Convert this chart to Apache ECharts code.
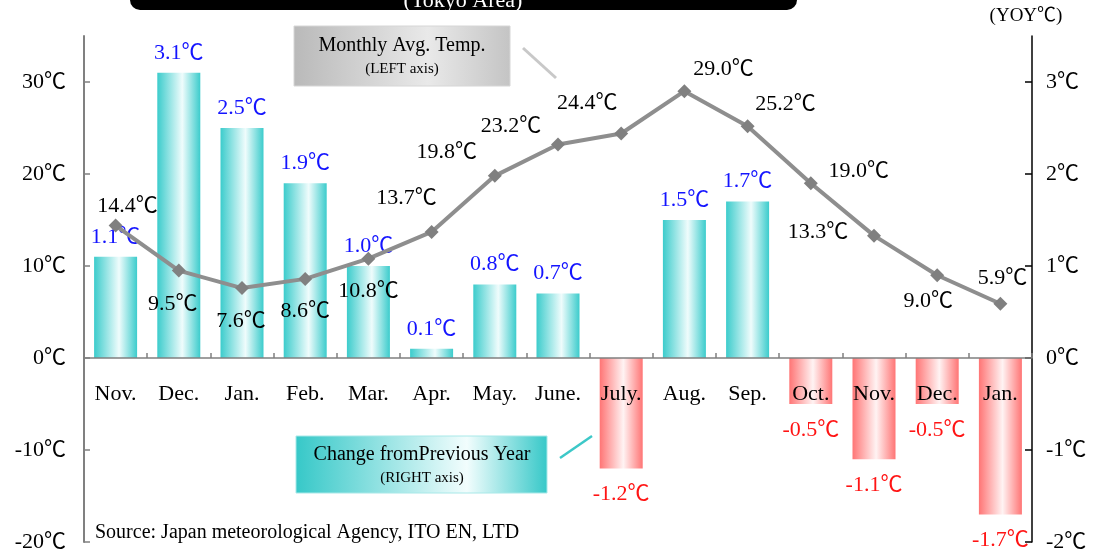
<!DOCTYPE html>
<html>
<head>
<meta charset="utf-8">
<script src="https://cdn.jsdelivr.net/npm/echarts@6/dist/echarts.min.js"></script>
<style>
  html, body { margin: 0; padding: 0; background: #fff; }
  #chart { width: 1093px; height: 554px; }
</style>
</head>
<body>
<div id="chart"></div>
<script>
// Month categories (Nov. of one year through Jan. two years later)
const months = ['Nov.', 'Dec.', 'Jan.', 'Feb.', 'Mar.', 'Apr.', 'May.', 'June.', 'July.', 'Aug.', 'Sep.', 'Oct.', 'Nov.', 'Dec.', 'Jan.'];
// Monthly average temperature, Tokyo (left axis, ℃)
const avgTemp = [14.4, 9.5, 7.6, 8.6, 10.8, 13.7, 19.8, 23.2, 24.4, 29.0, 25.2, 19.0, 13.3, 9.0, 5.9];
// Change from previous year (right axis, ℃)
const yoyChange = [1.1, 3.1, 2.5, 1.9, 1.0, 0.1, 0.8, 0.7, -1.2, 1.5, 1.7, -0.5, -1.1, -0.5, -1.7];
// Tick values for both value axes
const leftTicks = [-20, -10, 0, 10, 20, 30];
const rightTicks = [-2, -1, 0, 1, 2, 3];

// Where each temperature label sits relative to its marker [dx, dy]
const tempLabelOffsets = [
  [12, -19], [-6, 34], [-1, 33], [0, 32], [0, 33], [-25, -34], [-48, -24], [-47, -18],
  [-34, -30], [39, -22], [38, -22], [48, -12], [-56, -3], [-9, 26], [2, -26]
];

// Serif text; the degree-Celsius sign falls back to the CJK face
const FONT = "'Liberation Serif', 'Noto Sans CJK JP', serif";

// Plot area (pixels) and the height of the zero line above the plot bottom
const GRID = { left: 84, right: 61, top: 36, bottom: 12 };
const ZERO_LIFT = 184;

const tealFill = new echarts.graphic.LinearGradient(0, 0, 1, 0, [
  { offset: 0, color: '#3ccccc' },
  { offset: 0.58, color: '#effcfc' },
  { offset: 1, color: '#3ccccc' }
]);
const redFill = new echarts.graphic.LinearGradient(0, 0, 1, 0, [
  { offset: 0, color: '#ff7575' },
  { offset: 0.55, color: '#fff3f3' },
  { offset: 1, color: '#ff7575' }
]);

const chart = echarts.init(document.getElementById('chart'), null, { renderer: 'canvas' });

const option = {
  backgroundColor: '#ffffff',
  animation: false,
  textStyle: { fontFamily: FONT },
  grid: Object.assign({ containLabel: false, outerBoundsMode: 'none' }, GRID),
  xAxis: {
    type: 'category',
    data: months,
    position: 'bottom',
    offset: -ZERO_LIFT,
    z: 5,
    axisLine: { onZero: false, lineStyle: { color: '#808080', width: 1.5 } },
    axisTick: { show: true, inside: true, length: 5, lineStyle: { color: '#808080', width: 1.5 } },
    axisLabel: { color: '#000', fontSize: 22, fontFamily: FONT, margin: 25 },
    splitLine: { show: false }
  },
  yAxis: [
    {
      type: 'value',
      min: -20, max: 35, interval: 10,
      position: 'left',
      axisLine: { show: true, lineStyle: { color: '#808080', width: 2 } },
      axisTick: { show: true, inside: true, length: 6, customValues: leftTicks, lineStyle: { color: '#808080', width: 1.5 } },
      axisLabel: { color: '#000', fontSize: 22, fontFamily: FONT, margin: 18, customValues: leftTicks,
                   formatter: v => v + '℃' },
      splitLine: { show: false }
    },
    {
      type: 'value',
      min: -2, max: 3.5, interval: 1,
      position: 'right',
      axisLine: { show: true, lineStyle: { color: '#000', width: 1.5 } },
      axisTick: { show: true, inside: true, length: 7, customValues: rightTicks, lineStyle: { color: '#000', width: 1.5 } },
      axisLabel: { color: '#000', fontSize: 22, fontFamily: FONT, margin: 14, customValues: rightTicks,
                   formatter: v => v + '℃' },
      splitLine: { show: false }
    }
  ],
  series: [
    {
      name: 'Change from Previous Year',
      type: 'bar',
      yAxisIndex: 1,
      barWidth: 43,
      z: 2,
      data: yoyChange.map(v => ({
        value: v,
        itemStyle: { color: v >= 0 ? tealFill : redFill },
        label: {
          show: true,
          position: v >= 0 ? 'top' : 'bottom',
          distance: v >= 0 ? 9 : 15,
          color: v >= 0 ? '#1414ff' : '#ff1414',
          fontSize: 22,
          fontFamily: FONT,
          formatter: p => p.value.toFixed(1) + '℃'
        }
      }))
    },
    {
      name: 'Monthly Avg. Temp.',
      type: 'line',
      yAxisIndex: 0,
      z: 4,
      symbol: 'diamond',
      symbolSize: 14,
      lineStyle: { color: '#8e8e8e', width: 4 },
      itemStyle: { color: '#808080' },
      data: avgTemp.map((v, i) => ({
        value: v,
        label: {
          show: true,
          position: 'inside',
          offset: tempLabelOffsets[i],
          color: '#000',
          fontSize: 22,
          fontFamily: FONT,
          formatter: p => p.value.toFixed(1) + '℃'
        }
      }))
    }
  ],
  graphic: [
    // Title banner
    { type: 'rect', shape: { x: 130, y: -30, width: 667, height: 40, r: 10 }, style: { fill: '#000' }, z: 10 },
    { type: 'text', x: 463, y: 1, z: 11,
      style: { text: '(Tokyo Area)', fill: '#fff', font: '22px ' + FONT, align: 'center', verticalAlign: 'middle' } },
    // Right axis unit
    { type: 'text', x: 1026, y: 16, z: 11,
      style: { text: '(YOY℃)', fill: '#000', font: '19px ' + FONT, align: 'center', verticalAlign: 'middle' } },
    // Legend: line series
    { type: 'rect', shape: { x: 294, y: 26, width: 216, height: 60 }, z: 10,
      style: {
        fill: new echarts.graphic.LinearGradient(0, 0, 1, 0, [
          { offset: 0, color: '#b9b9b9' }, { offset: 0.62, color: '#e9e9e9' }, { offset: 1, color: '#c4c4c4' }
        ]),
        stroke: '#d6d6d6', lineWidth: 1
      } },
    { type: 'text', x: 402, y: 46, z: 11,
      style: { text: 'Monthly Avg. Temp.', fill: '#000', font: '20px ' + FONT, align: 'center', verticalAlign: 'middle' } },
    { type: 'text', x: 402, y: 69, z: 11,
      style: { text: '(LEFT axis)', fill: '#000', font: '15px ' + FONT, align: 'center', verticalAlign: 'middle' } },
    { type: 'line', shape: { x1: 523, y1: 48, x2: 556, y2: 78 }, z: 10,
      style: { stroke: '#c8c8c8', lineWidth: 3 } },
    // Legend: bar series
    { type: 'rect', shape: { x: 296, y: 436, width: 251, height: 57 }, z: 10,
      style: {
        fill: new echarts.graphic.LinearGradient(0, 0, 1, 0, [
          { offset: 0, color: '#36c8c8' }, { offset: 0.68, color: '#f2fdfd' }, { offset: 1, color: '#36c8c8' }
        ]),
        stroke: '#a8e8e8', lineWidth: 1
      } },
    { type: 'text', x: 422, y: 455, z: 11,
      style: { text: 'Change fromPrevious Year', fill: '#000', font: '20px ' + FONT, align: 'center', verticalAlign: 'middle' } },
    { type: 'text', x: 422, y: 478, z: 11,
      style: { text: '(RIGHT axis)', fill: '#000', font: '15px ' + FONT, align: 'center', verticalAlign: 'middle' } },
    { type: 'line', shape: { x1: 560, y1: 458, x2: 592, y2: 436 }, z: 10,
      style: { stroke: '#3cc8c8', lineWidth: 2.5 } },
    // Source note
    { type: 'text', x: 95, y: 533, z: 11,
      style: { text: 'Source: Japan meteorological Agency, ITO EN, LTD', fill: '#000', font: '20px ' + FONT, align: 'left', verticalAlign: 'middle' } }
  ]
};

chart.setOption(option);
</script>
</body>
</html>
